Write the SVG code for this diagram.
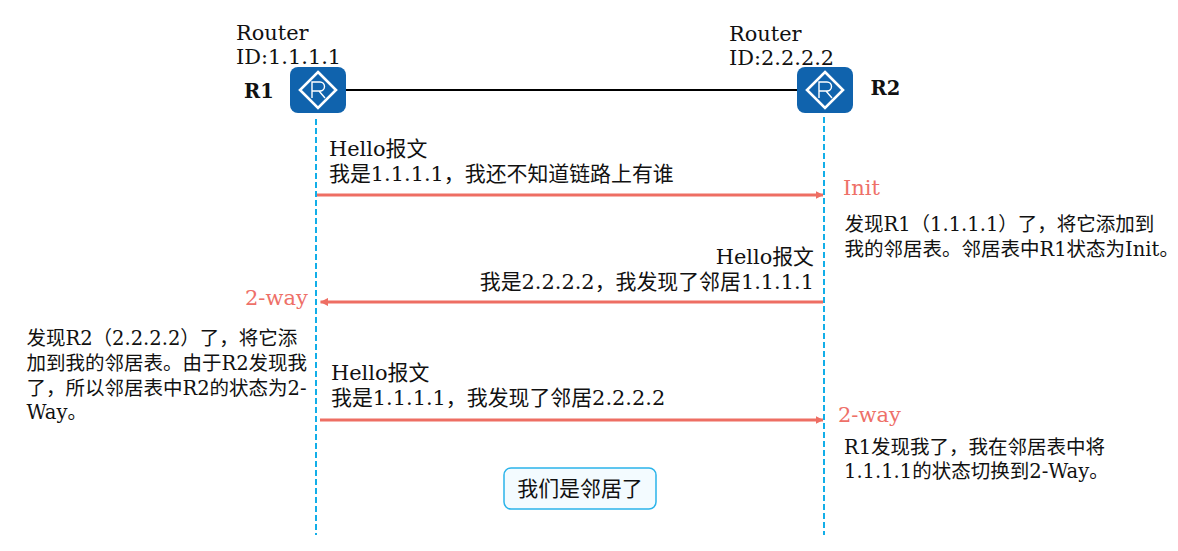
<svg xmlns="http://www.w3.org/2000/svg" width="1178" height="551" viewBox="0 0 1178 551">
<style>
text{font-family:"DejaVu Serif","Noto Sans CJK SC",serif;fill:#111}
.l{font-size:20.9px}
.s{font-size:19.5px}
.c{font-size:21px;fill:#ee7068}
.b{font-size:19.5px;font-weight:bold}
.life{stroke:#12aee8;stroke-width:2;stroke-dasharray:6 3;fill:none}
.msg{stroke:#ee6e63;stroke-width:3;fill:none}
.ic{fill:none;stroke:#fff}
</style>
<defs>
<marker id="a" markerWidth="2.6" markerHeight="2.7" refX="2.5" refY="1.35" orient="auto" markerUnits="strokeWidth"><path d="M0 0L2.6 1.35L0 2.7z" fill="#ee6e63"/></marker>
<g id="router"><rect x="-28" y="-23" width="56" height="46" rx="8" fill="#1063ad"/><path class="ic" stroke-width="2.6" d="M0-18L18 0L0 18L-18 0z"/><path class="ic" stroke-width="1.4" d="M-6 8V-8H2A4.5 4.5 0 0 1 2 1H-6M1 1L7 8"/></g>
</defs>
<g id="connectors">
<path d="M345 90H797" stroke="#000" stroke-width="2" fill="none"/>
<path class="life" d="M316 119V535"/>
<path class="life" d="M824 117V535"/>
<path class="msg" marker-end="url(#a)" d="M317 195H823"/>
<path class="msg" marker-end="url(#a)" d="M823 302H320.5"/>
<path class="msg" marker-end="url(#a)" d="M320 420H823"/>
</g>
<g id="r1"><use href="#router" x="318" y="90"/><text class="l" x="236" y="40">Router</text><text class="l" x="236" y="64">ID:1.1.1.1</text><text class="b" x="244" y="98">R1</text></g>
<g id="r2"><use href="#router" x="825" y="90"/><text class="l" x="729" y="41">Router</text><text class="l" x="729" y="65">ID:2.2.2.2</text><text class="b" x="870.5" y="95">R2</text></g>
<g id="m1"><text class="l" x="329" y="156">Hello报文</text><text class="l" x="329" y="181">我是1.1.1.1，我还不知道链路上有谁</text></g>
<g id="m2"><text class="l" x="814" y="264" text-anchor="end">Hello报文</text><text class="l" x="814" y="289" text-anchor="end">我是2.2.2.2，我发现了邻居1.1.1.1</text></g>
<g id="m3"><text class="l" x="331" y="380">Hello报文</text><text class="l" x="331" y="405">我是1.1.1.1，我发现了邻居2.2.2.2</text></g>
<g id="state1"><text class="c" x="843" y="195">Init</text></g>
<g id="state2"><text class="c" x="245" y="305">2-way</text></g>
<g id="state3"><text class="c" x="838" y="422">2-way</text></g>
<g id="note1"><text class="s" x="844.5" y="231">发现R1（1.1.1.1）了，将它添加到</text><text class="s" x="844.5" y="256">我的邻居表。邻居表中R1状态为Init。</text></g>
<g id="note2"><text class="s" x="26.5" y="345">发现R2（2.2.2.2）了，将它添</text><text class="s" x="26.5" y="370">加到我的邻居表。由于R2发现我</text><text class="s" x="26.5" y="395">了，所以邻居表中R2的状态为2-</text><text class="s" x="26.5" y="419">Way。</text></g>
<g id="note3"><text class="s" x="844" y="454">R1发现我了，我在邻居表中将</text><text class="s" x="844" y="478">1.1.1.1的状态切换到2-Way。</text></g>
<g id="neighbor"><rect x="504" y="468" width="152" height="41" rx="7" fill="#f3fbff" stroke="#2bb4ea" stroke-width="1.5"/><text class="l" x="580" y="496" text-anchor="middle">我们是邻居了</text></g>
</svg>
